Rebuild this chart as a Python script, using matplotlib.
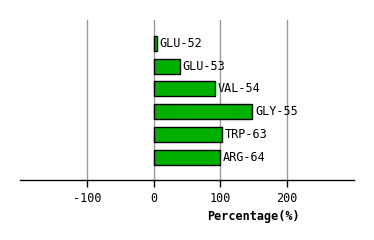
import matplotlib
matplotlib.use("Agg")
import matplotlib.pyplot as plt

# --- Data ---
residues = ["GLU-52", "GLU-53", "VAL-54", "GLY-55", "TRP-63", "ARG-64"]
percentages = [5, 39, 92, 148, 103, 100]
xticks = [-100, 0, 100, 200]

# --- Plot ---
fig = plt.figure(figsize=(3.74, 2.4), dpi=100)
ax = fig.add_axes([20 / 374, 60 / 240, 334 / 374, 160 / 240])

ypos = list(range(len(residues)))
ax.barh(ypos, percentages, height=0.66, color="#00b000", edgecolor="black", linewidth=1, zorder=3)
for y, v, name in zip(ypos, percentages, residues):
    ax.text(v + 4, y, name, va="center", ha="left", fontsize=8.5, family="DejaVu Sans Mono", zorder=4)

ax.set_xlim(-200, 300)
ax.set_ylim(6, -1.03)
ax.set_xticks(xticks)
ax.set_xticklabels([str(t) for t in xticks], family="DejaVu Sans Mono", fontsize=8.5)
ax.set_yticks([])
ax.grid(axis="x", color="#999999", linewidth=1, zorder=0)

for s in ["top", "right", "left"]:
    ax.spines[s].set_visible(False)
ax.spines["bottom"].set_linewidth(1)
ax.tick_params(axis="x", length=5, width=1, pad=4)

ax.set_xlabel("Percentage(%)", fontsize=8.5, fontweight="bold", family="DejaVu Sans Mono")
ax.xaxis.set_label_coords(0.70, -0.19)

fig.savefig("out.png", dpi=100)
